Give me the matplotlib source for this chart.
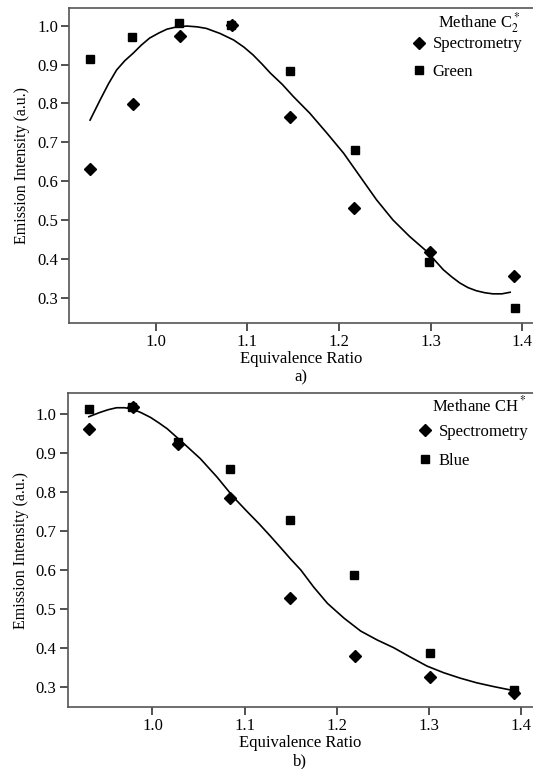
import matplotlib
matplotlib.use("Agg")
import matplotlib.pyplot as plt
from matplotlib.lines import Line2D

plt.rcParams['font.family'] = ['Liberation Serif', 'DejaVu Serif']
plt.rcParams['mathtext.fontset'] = 'stix'

# --- panel a) methane C2* ---
a_spec_x = [0.928, 0.975, 1.026, 1.083, 1.146, 1.216, 1.299, 1.391]
a_spec_y = [0.630, 0.799, 0.974, 1.003, 0.766, 0.532, 0.418, 0.355]
a_green_x = [0.928, 0.974, 1.025, 1.082, 1.146, 1.217, 1.298, 1.392]
a_green_y = [0.915, 0.970, 1.008, 1.003, 0.883, 0.680, 0.391, 0.274]
a_fit_x = [0.928, 0.939, 0.948, 0.957, 0.966, 0.975, 0.984, 0.993, 1.003, 1.012,
           1.023, 1.034, 1.045, 1.055, 1.070, 1.085, 1.096, 1.106, 1.116, 1.125,
           1.138, 1.150, 1.168, 1.187, 1.205, 1.223, 1.241, 1.259, 1.277, 1.296,
           1.314, 1.323, 1.332, 1.341, 1.350, 1.359, 1.368, 1.378, 1.387]
a_fit_y = [0.757, 0.809, 0.850, 0.886, 0.910, 0.929, 0.950, 0.968, 0.981, 0.991,
           0.997, 0.999, 0.997, 0.993, 0.980, 0.963, 0.945, 0.925, 0.901, 0.878,
           0.849, 0.818, 0.775, 0.723, 0.672, 0.612, 0.552, 0.500, 0.458, 0.419,
           0.372, 0.354, 0.338, 0.326, 0.318, 0.313, 0.310, 0.310, 0.314]

# --- panel b) methane CH* ---
b_spec_x = [0.931, 0.979, 1.028, 1.084, 1.149, 1.220, 1.301, 1.392]
b_spec_y = [0.962, 1.018, 0.924, 0.785, 0.527, 0.379, 0.324, 0.285]
b_blue_x = [0.931, 0.978, 1.028, 1.084, 1.149, 1.219, 1.301, 1.392]
b_blue_y = [1.015, 1.020, 0.929, 0.859, 0.728, 0.587, 0.387, 0.291]
b_fit_x = [0.931, 0.943, 0.952, 0.961, 0.970, 0.979, 0.988, 0.998, 1.007, 1.016,
           1.034, 1.052, 1.070, 1.088, 1.102, 1.116, 1.128, 1.140, 1.150, 1.161,
           1.175, 1.190, 1.208, 1.226, 1.244, 1.262, 1.280, 1.298, 1.316, 1.334,
           1.352, 1.371, 1.392]
b_fit_y = [0.994, 1.005, 1.012, 1.017, 1.017, 1.013, 1.004, 0.992, 0.978, 0.963,
           0.925, 0.886, 0.839, 0.787, 0.752, 0.718, 0.687, 0.655, 0.628, 0.600,
           0.556, 0.514, 0.476, 0.443, 0.420, 0.400, 0.376, 0.353, 0.336, 0.322,
           0.310, 0.300, 0.290]

yticks = [0.3, 0.4, 0.5, 0.6, 0.7, 0.8, 0.9, 1.0]
xticks = [1.0, 1.1, 1.2, 1.3, 1.4]

fig = plt.figure(figsize=(5.33, 7.69), dpi=100)


def panel(rect, xlim, ylim, sx, sy, qx, qy, fx, fy, title, sq_label, sub,
          spacing, title_y, leg_top, right):
    ax = fig.add_axes(rect)
    ax.plot(fx, fy, color='black', lw=1.2)
    ax.plot(sx, sy, 'D', color='black', ms=6, ls='none')
    ax.plot(qx, qy, 's', color='black', ms=5.5, ls='none')
    ax.set_xlim(*xlim)
    ax.set_ylim(*ylim)
    ax.set_xticks(xticks)
    ax.set_yticks(yticks)
    ax.set_xticklabels([f"{t:.1f}" for t in xticks])
    ax.set_yticklabels([f"{t:.1f}" for t in yticks])
    ax.spines['right'].set_visible(False)
    for s in ['top', 'left', 'bottom']:
        ax.spines[s].set_color('#555555')
        ax.spines[s].set_linewidth(1.2)
    ax.tick_params(axis='both', direction='out', length=6, width=1.2,
                   color='#333333', labelsize=12, pad=2)
    ax.set_ylabel("Emission Intensity (a.u.)", fontsize=11.5, labelpad=5)
    ax.set_xlabel("Equivalence Ratio\n" + sub, fontsize=12, labelpad=1,
                  linespacing=1.15)
    # legend title as a separate label
    ax.text(right, title_y, title, transform=ax.transAxes, ha='right',
            va='center', fontsize=12)
    handles = [Line2D([], [], marker='D', color='black', ls='none', ms=6),
               Line2D([], [], marker='s', color='black', ls='none', ms=5.5)]
    ax.legend(handles, ["Spectrometry", sq_label],
              loc='upper right', frameon=False, fontsize=12,
              handletextpad=0.3, handlelength=1.0, labelspacing=spacing,
              bbox_to_anchor=(right + 0.005, leg_top), borderaxespad=0,
              borderpad=0)
    return ax


panel([0.1295, 0.580, 0.8705, 0.4096], (0.905, 1.412), (0.235, 1.0455),
      a_spec_x, a_spec_y, a_green_x, a_green_y, a_fit_x, a_fit_y,
      r"Methane C$_2^*$", "Green", "a)", 0.68, 0.955, 0.91, 0.972)
panel([0.127, 0.081, 0.873, 0.4075], (0.908, 1.413), (0.2486, 1.054),
      b_spec_x, b_spec_y, b_blue_x, b_blue_y, b_fit_x, b_fit_y,
      r"Methane CH$^*$", "Blue", "b)", 0.8, 0.963, 0.903, 0.985)

fig.savefig("out.png", dpi=100)
